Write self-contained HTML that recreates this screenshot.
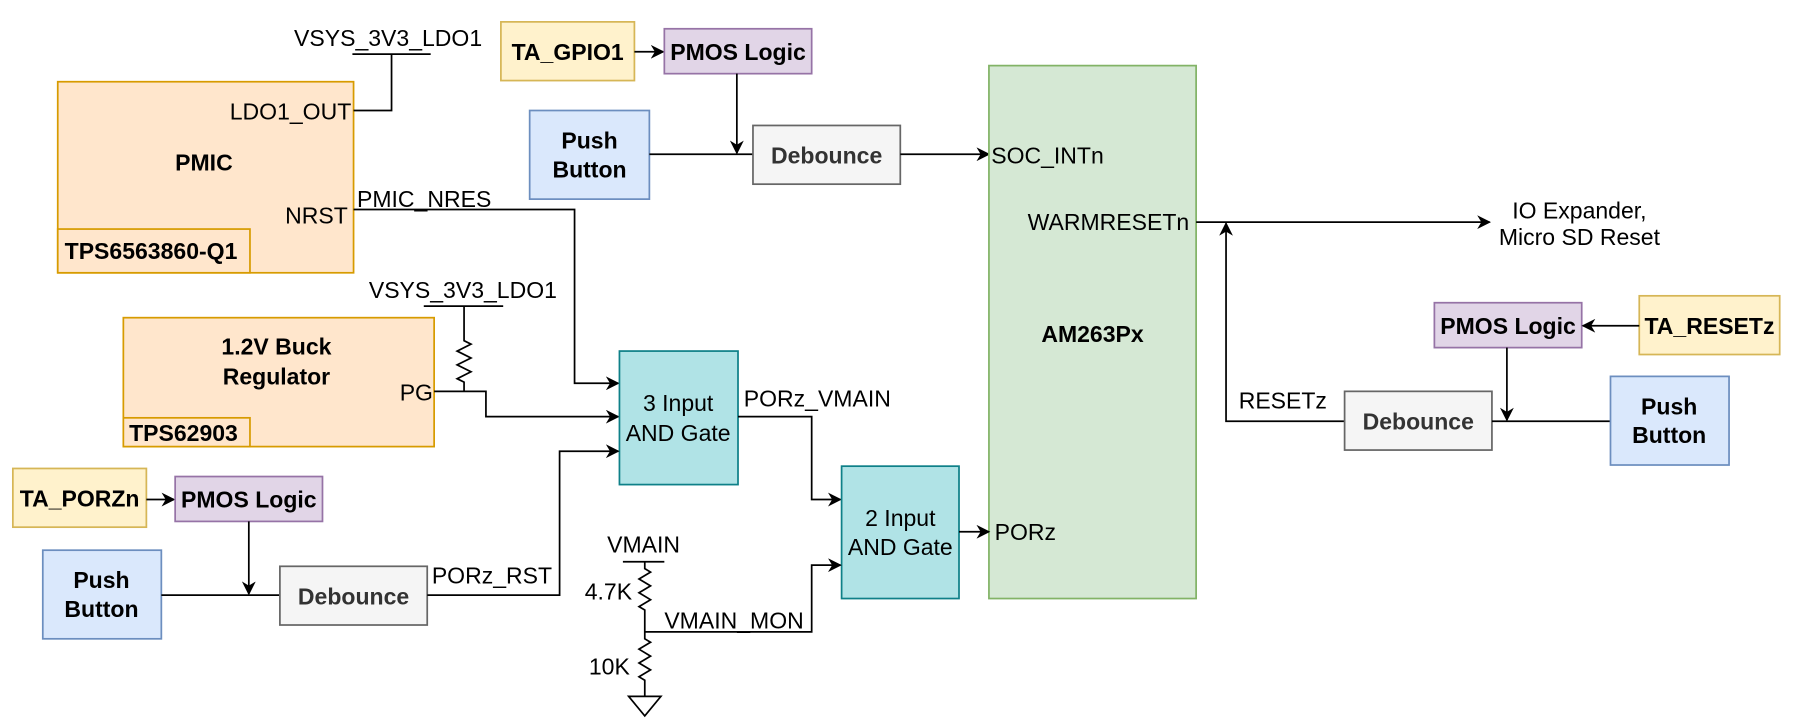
<!DOCTYPE html>
<html><head><meta charset="utf-8"><style>
html,body{margin:0;padding:0;background:#fff;}
svg{display:block;}
text{font-family:"Liberation Sans",Arial,sans-serif;font-size:20px;fill:#000;}
.b{font-weight:bold;}
.c{text-anchor:middle;}
.r{text-anchor:end;}
.w{fill:none;stroke:#000;stroke-width:1.5;}
</style></head><body>
<svg width="1796" height="724" viewBox="0 0 1560 629" xmlns="http://www.w3.org/2000/svg">
<defs>
<marker id="a" viewBox="0 0 10 10" refX="9" refY="5" markerWidth="12" markerHeight="12" markerUnits="userSpaceOnUse" orient="auto">
<path d="M0,0 L10,5 L0,10 L3,5 Z" fill="#000"/></marker>
</defs>
<!-- PMIC -->
<rect x="50" y="71" width="257" height="166" fill="#ffe6cc" stroke="#d79b00" stroke-width="1.5"/>
<rect x="50" y="199" width="167" height="38" fill="#ffe6cc" stroke="#d79b00" stroke-width="1.5"/>
<text class="b c" x="177" y="148">PMIC</text>
<text class="b" x="56" y="225">TPS6563860-Q1</text>
<text class="r" x="305" y="104">LDO1_OUT</text>
<text class="r" x="302" y="194">NRST</text>
<text class="c" x="337" y="40">VSYS_3V3_LDO1</text>
<path class="w" d="M306,47H374M340,47V96H307"/>
<text x="310" y="180">PMIC_NRES</text>
<path class="w" d="M307,182H499V333H537" marker-end="url(#a)"/>
<!-- top GPIO -->
<rect x="435" y="19" width="116" height="51" fill="#fff2cc" stroke="#d6b656" stroke-width="1.5"/>
<text class="b c" x="493" y="52">TA_GPIO1</text>
<path class="w" d="M551,45H576" marker-end="url(#a)"/>
<rect x="577" y="25" width="128" height="39" fill="#e1d5e7" stroke="#9673a6" stroke-width="1.5"/>
<text class="b c" x="641" y="52">PMOS Logic</text>
<path class="w" d="M640,64V133" marker-end="url(#a)"/>
<rect x="460" y="96" width="104" height="77" fill="#dae8fc" stroke="#6c8ebf" stroke-width="1.5"/>
<text class="b c" x="512" y="129">Push</text>
<text class="b c" x="512" y="154">Button</text>
<path class="w" d="M564,134H654"/>
<rect x="654" y="109" width="128" height="51" fill="#f5f5f5" stroke="#666" stroke-width="1.5"/>
<text class="b c" x="718" y="142" style="fill:#333">Debounce</text>
<path class="w" d="M782,134H859" marker-end="url(#a)"/>
<!-- AM263Px -->
<rect x="859" y="57" width="180" height="463" fill="#d5e8d4" stroke="#82b366" stroke-width="1.5"/>
<text class="b c" x="949" y="297">AM263Px</text>
<text x="861" y="142">SOC_INTn</text>
<text class="r" x="1033" y="200">WARMRESETn</text>
<text x="864" y="469">PORz</text>
<path class="w" d="M1039,193H1294" marker-end="url(#a)"/>
<text class="c" x="1372" y="190">IO Expander,</text>
<text class="c" x="1372" y="213">Micro SD Reset</text>
<!-- right reset -->
<path class="w" d="M1168,366H1065V194" marker-end="url(#a)"/>
<text x="1076" y="355">RESETz</text>
<rect x="1168" y="340" width="128" height="51" fill="#f5f5f5" stroke="#666" stroke-width="1.5"/>
<text class="b c" x="1232" y="373" style="fill:#333">Debounce</text>
<path class="w" d="M1296,366H1399"/>
<rect x="1246" y="263" width="128" height="39" fill="#e1d5e7" stroke="#9673a6" stroke-width="1.5"/>
<text class="b c" x="1310" y="290">PMOS Logic</text>
<path class="w" d="M1309,302V365" marker-end="url(#a)"/>
<rect x="1424" y="257" width="122" height="51" fill="#fff2cc" stroke="#d6b656" stroke-width="1.5"/>
<text class="b c" x="1485" y="290">TA_RESETz</text>
<path class="w" d="M1424,283H1375" marker-end="url(#a)"/>
<rect x="1399" y="327" width="103" height="77" fill="#dae8fc" stroke="#6c8ebf" stroke-width="1.5"/>
<text class="b c" x="1450" y="360">Push</text>
<text class="b c" x="1450" y="385">Button</text>
<!-- Buck -->
<rect x="107" y="276" width="270" height="112" fill="#ffe6cc" stroke="#d79b00" stroke-width="1.5"/>
<rect x="107" y="363" width="110" height="25" fill="#ffe6cc" stroke="#d79b00" stroke-width="1.5"/>
<text class="b c" x="240" y="308">1.2V Buck</text>
<text class="b c" x="240" y="334">Regulator</text>
<text class="b" x="112" y="383">TPS62903</text>
<text class="r" x="376" y="348">PG</text>
<text class="c" x="402" y="259">VSYS_3V3_LDO1</text>
<path class="w" d="M368,266H437M403,266V296l6,3l-12,6l12,6l-12,6l12,6l-12,6l6,3V340M377,340H422V362H537" marker-end="url(#a)"/>
<!-- 3 input AND -->
<rect x="538" y="305" width="103" height="116" fill="#b0e3e6" stroke="#0e8088" stroke-width="1.5"/>
<text class="c" x="589" y="357">3 Input</text>
<text class="c" x="589" y="383">AND Gate</text>
<text x="646" y="353">PORz_VMAIN</text>
<path class="w" d="M641,362H705V434H730" marker-end="url(#a)"/>
<!-- left PORZ -->
<rect x="11" y="407" width="116" height="51" fill="#fff2cc" stroke="#d6b656" stroke-width="1.5"/>
<text class="b c" x="69" y="440">TA_PORZn</text>
<path class="w" d="M127,434H151" marker-end="url(#a)"/>
<rect x="152" y="414" width="128" height="39" fill="#e1d5e7" stroke="#9673a6" stroke-width="1.5"/>
<text class="b c" x="216" y="441">PMOS Logic</text>
<path class="w" d="M216,453V516" marker-end="url(#a)"/>
<rect x="37" y="478" width="103" height="77" fill="#dae8fc" stroke="#6c8ebf" stroke-width="1.5"/>
<text class="b c" x="88" y="511">Push</text>
<text class="b c" x="88" y="536">Button</text>
<path class="w" d="M140,517H243"/>
<rect x="243" y="492" width="128" height="51" fill="#f5f5f5" stroke="#666" stroke-width="1.5"/>
<text class="b c" x="307" y="525" style="fill:#333">Debounce</text>
<text x="375" y="507">PORz_RST</text>
<path class="w" d="M371,517H486V392H537" marker-end="url(#a)"/>
<!-- 2 input AND -->
<rect x="731" y="405" width="102" height="115" fill="#b0e3e6" stroke="#0e8088" stroke-width="1.5"/>
<text class="c" x="782" y="457">2 Input</text>
<text class="c" x="782" y="482">AND Gate</text>
<path class="w" d="M833,462H859" marker-end="url(#a)"/>
<!-- VMAIN divider -->
<text class="c" x="559" y="480">VMAIN</text>
<path class="w" d="M541,488H577M560,488V494l5,3l-10,6l10,6l-10,6l10,6l-10,6l5,3V555l5,3l-10,6l10,6l-10,6l10,6l-10,6l5,3V605"/>
<path class="w" d="M546,605H574L560,622Z"/>
<text class="r" x="549" y="521">4.7K</text>
<text class="r" x="547" y="586">10K</text>
<text x="577" y="546">VMAIN_MON</text>
<path class="w" d="M560,549H705V491H730" marker-end="url(#a)"/>
</svg>
</body></html>
